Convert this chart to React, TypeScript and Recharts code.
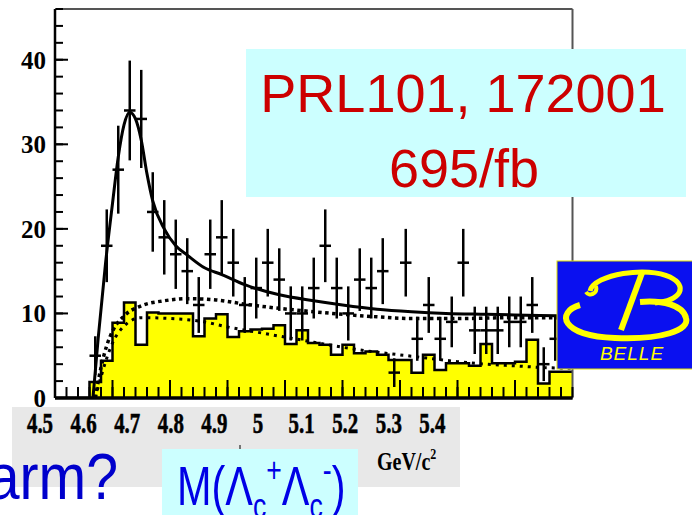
import React from 'react';
import { ComposedChart, Area, Line, Scatter, ErrorBar, XAxis, YAxis, ReferenceLine } from 'recharts';

// ---- Data ----
// Sideband histogram: bin low edges (0.02 GeV bins) and contents
const histLowEdges = [4.50, 4.52, 4.54, 4.56, 4.58, 4.60, 4.62, 4.64, 4.66, 4.68, 4.70, 4.72, 4.74, 4.76, 4.78,
  4.80, 4.82, 4.84, 4.86, 4.88, 4.90, 4.92, 4.94, 4.96, 4.98, 5.00, 5.02, 5.04, 5.06, 5.08,
  5.10, 5.12, 5.14, 5.16, 5.18, 5.20, 5.22, 5.24, 5.26, 5.28, 5.30, 5.32, 5.34, 5.36, 5.38];
const histValues = [0, 0, 0, 1.9, 4.4, 8.9, 11.3, 6.3, 10.1, 10.0, 10.0, 10.0, 7.3, 9.4, 9.9,
  7.2, 7.9, 8.1, 8.2, 8.6, 6.4, 8.0, 6.5, 6.3, 5.1, 6.3, 5.3, 5.5, 5.1, 4.5,
  4.5, 3.0, 5.1, 3.3, 4.1, 4.1, 3.8, 6.4, 4.1, 4.1, 4.3, 6.9, 1.7, 3.1, 3.1];
const histUpperEdge = 5.40;

// Data points (bin centres), counts and errors
const pointX = [4.57, 4.59, 4.61, 4.63, 4.65, 4.67, 4.69, 4.71, 4.73, 4.75, 4.77, 4.79, 4.81, 4.83,
  4.85, 4.87, 4.89, 4.91, 4.93, 4.95, 4.97, 4.99, 5.01, 5.03, 5.05, 5.07, 5.09, 5.11,
  5.13, 5.15, 5.17, 5.19, 5.21, 5.23, 5.25, 5.27, 5.29, 5.31, 5.33, 5.35, 5.37, 5.39];
const pointY = [5, 18, 27, 34, 33, 22, 19, 17, 15, 11, 17, 19, 16, 11, 13, 16, 14, 10, 10, 13, 18,
  13, 10, 14, 13, 15, 3, 16, 7, 11, 7, 9, 16, 8, 8, 8, 9, 9, 11, 4, 7, 8];
const pointErr = [2.3, 4.3, 5.2, 5.9, 5.8, 4.7, 4.4, 4.1, 3.9, 3.3, 4.1, 4.4, 4.0, 3.3, 3.6, 4.0, 3.7,
  3.2, 3.2, 3.6, 4.3, 3.6, 3.2, 3.7, 3.6, 3.9, 1.7, 4.0, 2.6, 3.3, 2.6, 3.0, 4.0, 2.8, 2.8, 2.8,
  3.0, 3.0, 3.3, 2.0, 2.6, 2.8];
const pointHalfWidth = 0.01;

// Total fit (solid)
const fitX = [4.566, 4.575, 4.588, 4.600, 4.610, 4.620, 4.630, 4.640, 4.650, 4.660, 4.670, 4.690,
  4.710, 4.730, 4.760, 4.790, 4.830, 4.890, 4.950, 5.000, 5.060, 5.120, 5.180, 5.250, 5.320, 5.400];
const fitY = [0, 7, 16, 23, 28.5, 32.3, 33.8, 33.0, 30.5, 26.5, 23.3, 20.0,
  18.0, 16.9, 15.4, 14.6, 13.4, 12.2, 11.5, 11.0, 10.5, 10.2, 10.0, 9.9, 9.8, 9.7];

// Background (upper dotted)
const bgX = [4.570, 4.580, 4.590, 4.600, 4.620, 4.650, 4.690, 4.730, 4.780, 4.830, 4.890, 4.950,
  5.000, 5.060, 5.120, 5.200, 5.300, 5.400];
const bgY = [0, 3.6, 6.2, 7.9, 9.7, 10.9, 11.5, 11.75, 11.6, 11.1, 10.6, 10.2,
  9.9, 9.6, 9.4, 9.4, 9.5, 9.5];

// Sideband shape (lower dotted)
const sbX = [4.570, 4.580, 4.600, 4.620, 4.650, 4.700, 4.760, 4.800, 4.850, 4.900, 4.950, 5.000,
  5.050, 5.100, 5.150, 5.200, 5.250, 5.300, 5.350, 5.400];
const sbY = [0, 2.5, 6.5, 8.5, 9.5, 9.4, 9.0, 8.4, 7.8, 7.2, 6.6, 6.0,
  5.5, 5.1, 4.7, 4.3, 4.0, 3.8, 3.6, 3.5];

// Axis ticks / labels
const yMajorTicks = [0, 10, 20, 30, 40];
const bandTickLabels = [4.5, 4.6, 4.7, 4.8, 4.9, 5.0, 5.1, 5.2, 5.3, 5.4];
const xMajorTicks = [4.6, 4.7, 4.8, 4.9, 5.0, 5.1, 5.2, 5.3];

// ---- Derived tables ----
const histData = histLowEdges.map((x, i) => ({ x, h: histValues[i] }))
  .concat([{ x: histUpperEdge, h: histValues[histValues.length - 1] }]);
const pointData = pointX.map((x, i) => ({ x, y: pointY[i], ey: pointErr[i], ex: pointHalfWidth }));
const fitData = fitX.map((x, i) => ({ x, y: fitY[i] }));
const bgData = bgX.map((x, i) => ({ x, y: bgY[i] }));
const sbData = sbX.map((x, i) => ({ x, y: sbY[i] }));
const yMinorTicks: number[] = [];
for (let v = 0; v <= 46; v += 2) yMinorTicks.push(v);
const xMinorTicks: number[] = [];
for (let k = 0; k <= 45; k++) xMinorTicks.push(Math.round((4.5 + 0.02 * k) * 100) / 100);

const serif = "'Liberation Serif', 'Times New Roman', serif";
const sans = "'Liberation Sans', Arial, sans-serif";

const NoLabel = () => <g />;

const BandTick = (props: any) => {
  const { x, payload } = props;
  return (
    <g transform={`translate(${x},26)`}>
      <text transform="scale(0.72,1)" textAnchor="middle" fontFamily={serif} fontWeight="bold"
        fontSize={29} fill="#000" stroke="#000" strokeWidth={0.6}>{payload.value}</text>
    </g>
  );
};

export default function App() {
  return (
    <div style={{ position: 'fixed', left: 0, top: 0, width: 692, height: 515, overflow: 'hidden', background: '#fff' }}>
      {/* gray band behind the x labels */}
      <div style={{ position: 'absolute', left: 12, top: 407, width: 448, height: 80, background: '#e8e8e8' }} />

      <div style={{ position: 'absolute', left: 0, top: 0 }}>
        <ComposedChart width={692} height={515} margin={{ top: 9, right: 119.5, bottom: 116, left: 5 }}>
          <Area xAxisId="main" yAxisId="lab" data={histData} dataKey="h" type="stepAfter"
            fill="#ffff00" fillOpacity={1} stroke="#000" strokeWidth={2.5} isAnimationActive={false} dot={false} activeDot={false} />
          <Line xAxisId="main" yAxisId="lab" data={sbData} dataKey="y" type="monotone" stroke="#000"
            strokeWidth={3} strokeDasharray="3 5" dot={false} activeDot={false} isAnimationActive={false} />
          <Line xAxisId="main" yAxisId="lab" data={bgData} dataKey="y" type="monotone" stroke="#000"
            strokeWidth={3.5} strokeDasharray="3.5 3.5" dot={false} activeDot={false} isAnimationActive={false} />
          <Line xAxisId="main" yAxisId="lab" data={fitData} dataKey="y" type="monotone" stroke="#000"
            strokeWidth={3} dot={false} activeDot={false} isAnimationActive={false} />
          <Scatter xAxisId="main" yAxisId="lab" data={pointData} dataKey="y" shape={() => <g />} isAnimationActive={false}>
            <ErrorBar dataKey="ey" direction="y" width={0} stroke="#000" strokeWidth={2.5} />
            <ErrorBar dataKey="ex" direction="x" width={0} stroke="#000" strokeWidth={2.5} />
          </Scatter>

          <XAxis xAxisId="main" type="number" dataKey="x" domain={[4.5, 5.4]} allowDataOverflow
            ticks={xMajorTicks} tick={NoLabel} tickLine={false} height={1}
            axisLine={{ stroke: '#000', strokeWidth: 3 }} />
          <XAxis xAxisId="minorX" type="number" dataKey="x" domain={[4.5, 5.4]} allowDataOverflow mirror
            ticks={xMinorTicks} interval={0} tick={NoLabel} tickSize={10} height={1} axisLine={false}
            tickLine={{ stroke: '#000', strokeWidth: 2 }} />
          <XAxis xAxisId="majorX" type="number" dataKey="x" domain={[4.5, 5.4]} allowDataOverflow mirror
            ticks={xMajorTicks} interval={0} tick={NoLabel} tickSize={18} height={1} axisLine={false}
            tickLine={{ stroke: '#000', strokeWidth: 2 }} />
          <YAxis yAxisId="lab" type="number" domain={[0, 46]} allowDataOverflow ticks={yMajorTicks} interval={0}
            width={50} tickLine={false} tickSize={0} tickMargin={9}
            axisLine={{ stroke: '#000', strokeWidth: 2.5 }}
            tick={{ fontFamily: serif, fontWeight: 'bold', fontSize: 25, fill: '#000' }} />
          <YAxis yAxisId="minorY" type="number" domain={[0, 46]} allowDataOverflow mirror width={1}
            ticks={yMinorTicks} interval={0} tick={NoLabel} tickSize={7} axisLine={false}
            tickLine={{ stroke: '#000', strokeWidth: 2 }} />
          <YAxis yAxisId="majorY" type="number" domain={[0, 46]} allowDataOverflow mirror width={1}
            ticks={yMajorTicks} interval={0} tick={NoLabel} tickSize={13} axisLine={false}
            tickLine={{ stroke: '#000', strokeWidth: 2 }} />

          <ReferenceLine xAxisId="main" yAxisId="lab" y={46} stroke="#555" strokeWidth={2} />
          <ReferenceLine xAxisId="main" yAxisId="lab" x={5.4} stroke="#555" strokeWidth={2} />
          <ReferenceLine xAxisId="main" yAxisId="lab" y={0} stroke="#000" strokeWidth={3} />
        </ComposedChart>
      </div>

      {/* squeezed axis label strip */}
      <div style={{ position: 'absolute', left: 0, top: 407 }}>
        <ComposedChart width={692} height={80} margin={{ top: 0, right: 259.6, bottom: 0, left: 40 }}>
          <XAxis xAxisId="band" type="number" dataKey="x" orientation="top" domain={[4.5, 5.4]} allowDataOverflow
            ticks={bandTickLabels} interval={0} height={1} axisLine={false} tickLine={false} tick={<BandTick />} />
          <YAxis yAxisId="bandY" hide domain={[0, 1]} />
          <Line xAxisId="band" yAxisId="bandY" data={bandTickLabels.map((x) => ({ x, v: 0 }))} dataKey="v"
            stroke="none" dot={false} activeDot={false} isAnimationActive={false} />
        </ComposedChart>
      </div>

      <svg width={692} height={515} style={{ position: 'absolute', left: 0, top: 0, pointerEvents: 'none' }}>
        {/* GeV/c^2 */}
        <g transform="translate(377,470) scale(0.8,1)">
          <text fontFamily={serif} fontWeight="bold" fontSize={25} fill="#000">GeV/c<tspan fontSize={15} dy={-11}>2</tspan></text>
        </g>
        <line x1={240} y1={445} x2={240} y2={452} stroke="#000" strokeWidth={1} />

        {/* reference box */}
        <rect x={246} y={49} width={440} height={148} fill="#ccffff" />
        <text x={463} y={112} textAnchor="middle" fontFamily={sans} fontSize={54} fill="#cc0000">PRL101, 172001</text>
        <text x={464} y={187} textAnchor="middle" fontFamily={sans} fontSize={54} fill="#cc0000">695/fb</text>

        {/* BELLE logo */}
        <rect x={557} y={261} width={140} height={108} fill="#0a10f0" stroke="#e0e000" strokeWidth={1} />
        <path d="M 590 291 C 594 274, 648 266, 670 277 C 688 286, 682 300, 655 303" fill="none" stroke="#ffff00" strokeWidth={5} />
        <path d="M 586 292 C 589 297, 598 294, 596 286" fill="none" stroke="#ffff00" strokeWidth={4} />
        <path d="M 580 305 C 556 312, 560 336, 615 338 C 662 340, 690 330, 686 318 C 683 305, 662 300, 640 302" fill="none" stroke="#ffff00" strokeWidth={6} />
        <path d="M 642 273 L 621 330" fill="none" stroke="#ffff00" strokeWidth={6} />
        <text x={632} y={360} textAnchor="middle" fontFamily={sans} fontStyle="italic" fontSize={19}
          letterSpacing={1} fill="#ffff00">BELLE</text>

        {/* mass label box */}
        <rect x={162} y={449} width={196} height={70} fill="#ccffff" />
        <g transform="translate(177,505) scale(0.74,1)">
          <text fontFamily={sans} fontSize={56} fill="#0000e6">
            M(Λ<tspan fontSize={36} dy={13}>c</tspan><tspan fontSize={36} dy={-36}>+</tspan><tspan dy={23}>Λ</tspan><tspan fontSize={36} dy={13}>c</tspan><tspan fontSize={36} dy={-36}>-</tspan><tspan dy={23}>)</tspan>
          </text>
        </g>

        {/* cut-off title */}
        <g transform="translate(118,499) scale(0.88,1)">
          <text textAnchor="end" fontFamily={sans} fontSize={65} fill="#0000cc">Charm?</text>
        </g>
      </svg>
    </div>
  );
}
